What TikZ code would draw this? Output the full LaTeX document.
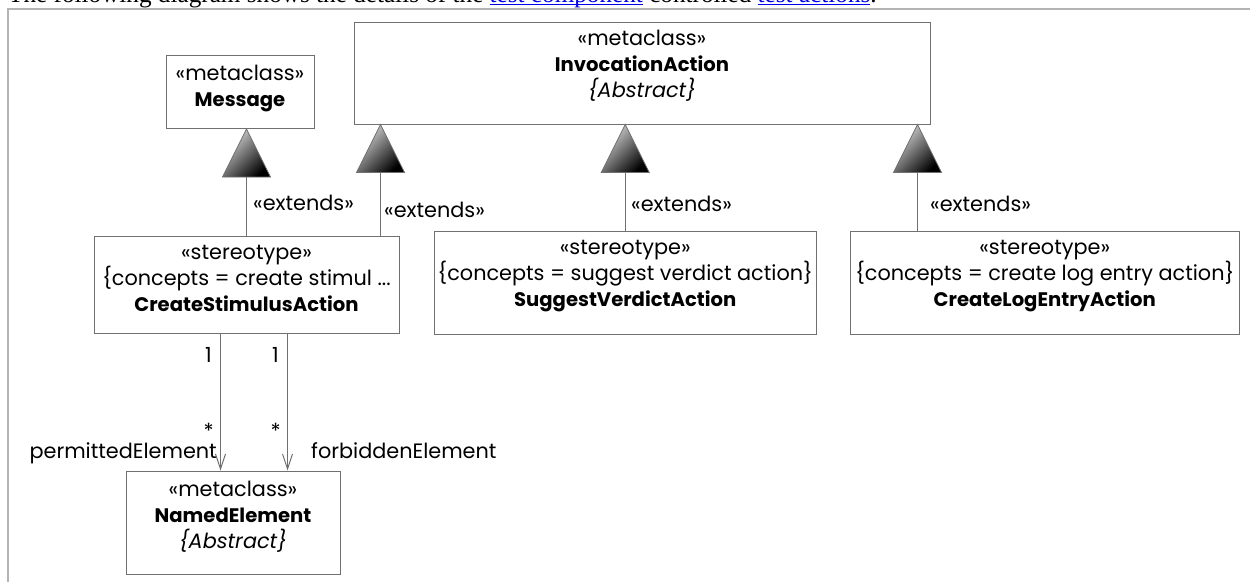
\documentclass[tikz,border=0pt]{standalone}
\usepackage{fontspec}
\setmainfont{Poppins}
\newfontfamily\introfont{Liberation Serif}
\usetikzlibrary{arrows.meta,positioning}

\definecolor{umlline}{RGB}{112,112,112}
\definecolor{umlframe}{RGB}{180,180,180}
\definecolor{linkblue}{RGB}{0,0,238}
\newcommand{\weblink}[1]{\textcolor{linkblue}{\setbox0\hbox{#1}\rlap{\rule[-2.8pt]{\wd0}{1.6pt}}\box0}}
\newcommand{\clsname}[1]{{\fontsize{19.6}{26}\selectfont\bfseries #1}}

\tikzset{
  umlbox/.style={shape=rectangle,draw=umlline,line width=1pt,inner sep=0pt},
  boxtxt/.style={anchor=north,align=center,inner sep=0pt,font=\fontsize{20.8}{26}\selectfont},
  lbl/.style={inner sep=0pt,font=\fontsize{20.8}{24}\selectfont},
  conn/.style={draw=umlline,line width=1pt},
  assoc/.style={conn,-{Straight Barb[length=15pt,width=10pt,line width=1pt]}},
  genhead/.style={draw=umlline,line width=.8pt,top color=gray!30,bottom color=black,shading angle=45}
}

\begin{document}
\begin{tikzpicture}[x=1pt,y=-1pt]
    \clip (0,0) rectangle (1250,582);
    % page text above the figure
    \node[anchor=base west,inner sep=0pt,font=\introfont\fontsize{25.2}{28}\selectfont] (intro) at (8,2.5)
      {The following diagram shows the details of the \weblink{test component} controlled \weblink{test actions}.};
    \draw[umlframe,line width=1.5pt] (8,582) -- (8,9) -- (1250,9);
    % classes
    \node[umlbox,minimum width=148,minimum height=73] (msg) at (240,92) {};
    \node[umlbox,minimum width=576,minimum height=102] (inv) at (642,73) {};
    \node[umlbox,minimum width=305,minimum height=97] (csa) at (246.5,284.5) {};
    \node[umlbox,minimum width=382,minimum height=103] (sva) at (625.25,282.5) {};
    \node[umlbox,minimum width=388.5,minimum height=103] (cle) at (1044.75,282.5) {};
    \node[umlbox,minimum width=214,minimum height=103] (ne) at (233,522.5) {};
    \node[boxtxt,yshift=-10] (msgtxt) at (msg.north) {«metaclass»\\\clsname{Message}};
    \node[boxtxt,yshift=-8] (invtxt) at (inv.north) {«metaclass»\\\clsname{InvocationAction}\\\textit{\{Abstract\}}};
    \node[boxtxt,yshift=-10] (csatxt) at (csa.north) {«stereotype»\\\{concepts = create stimul ...\\\clsname{CreateStimulusAction}};
    \node[boxtxt,yshift=-10] (svatxt) at (sva.north) {«stereotype»\\\{concepts = suggest verdict action\}\\\clsname{SuggestVerdictAction}};
    \node[boxtxt,yshift=-10] (cletxt) at (cle.north) {«stereotype»\\\{concepts = create log entry action\}\\\clsname{CreateLogEntryAction}};
    \node[boxtxt,yshift=-10] (netxt) at (ne.north) {«metaclass»\\\clsname{NamedElement}\\\textit{\{Abstract\}}};
    % extension heads
    \coordinate (tmsg) at (msg.south -| csa.north);
    \coordinate (tinva) at ([xshift=27]inv.south west);
    \coordinate (tinvb) at (inv.south -| sva.north);
    \coordinate (tinvc) at ([xshift=-13]inv.south east);
    \foreach \t in {tmsg,tinva,tinvb,tinvc}
      \draw[genhead] (\t) -- ++(-24,48) -- ++(48,0) -- cycle;
    \draw[conn] (csa.north) -- ([yshift=-48]tmsg);
    \draw[conn] (csa.north -| tinva) -- ([yshift=-48]tinva);
    \draw[conn] (sva.north) -- ([yshift=-48]tinvb);
    \draw[conn] (cle.north -| tinvc) -- ([yshift=-48]tinvc);
    \node[lbl,anchor=base west] (exta) at (253,210) {«extends»};
    \node[lbl,anchor=base west] (extb) at (384,217) {«extends»};
    \node[lbl,anchor=base west] (extc) at (631,211) {«extends»};
    \node[lbl,anchor=base west] (extd) at (930,211) {«extends»};
    % associations
    \draw[assoc] ([xshift=-26]csa.south) -- ([xshift=-26]csa.south |- ne.north);
    \draw[assoc] ([xshift=41]csa.south) -- ([xshift=41]csa.south |- ne.north);
    \node[lbl,anchor=base east] (mpa) at (212,362) {1};
    \node[lbl,anchor=base east] (mpb) at (279,362) {1};
    \node[lbl,anchor=east] (mca) at (214,431) {*};
    \node[lbl,anchor=east] (mcb) at (281,431) {*};
    \node[lbl,anchor=base east] (rpe) at (217,458) {permittedElement};
    \node[lbl,anchor=base west] (rfe) at (311,458) {forbiddenElement};
\end{tikzpicture}
\end{document}
